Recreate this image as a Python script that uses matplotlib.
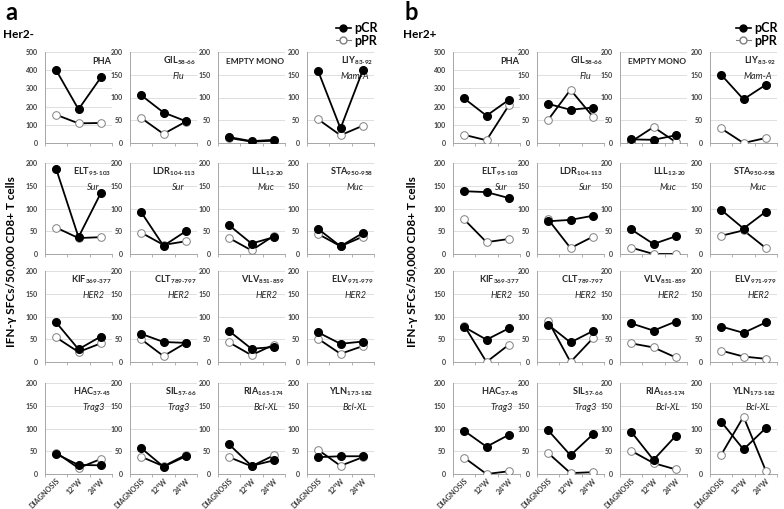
import numpy as np
import matplotlib.pyplot as plt
from matplotlib.lines import Line2D

plt.rcParams['font.family'] = ['Lato', 'DejaVu Sans']
plt.rcParams['mathtext.fontset'] = 'custom'
plt.rcParams['mathtext.rm'] = 'Lato'
plt.rcParams['mathtext.bf'] = 'Lato:bold'
plt.rcParams['mathtext.it'] = 'Lato:italic'

# data
timepoints = ['DIAGNOSIS', '12°W', '24°W']
peptides = ['PHA', 'GIL', 'EMPTY MONO', 'LIY',
            'ELT', 'LDR', 'LLL', 'STA',
            'KIF', 'CLT', 'VLV', 'ELV',
            'HAC', 'SIL', 'RIA', 'YLN']
subscripts = ['', '58-66', '', '83-92',
              '95-103', '104-113', '12-20', '950-958',
              '369-377', '789-797', '851-859', '971-979',
              '37-45', '57-66', '165-174', '173-182']
proteins = ['', 'Flu', '', 'Mam-A',
            'Sur', 'Sur', 'Muc', 'Muc',
            'HER2', 'HER2', 'HER2', 'HER2',
            'Trag3', 'Trag3', 'Bcl-XL', 'Bcl-XL']

her2neg_pcr = [[400, 185, 360], [105, 67, 48], [13, 4, 7], [158, 32, 160],
               [187, 37, 134], [92, 18, 50], [63, 23, 37], [55, 17, 46],
               [87, 28, 56], [62, 44, 42], [68, 29, 33], [65, 40, 45],
               [44, 20, 19], [57, 16, 39], [65, 18, 30], [37, 39, 39]]
her2neg_ppr = [[155, 108, 110], [55, 20, 47], [11, 3, 5], [52, 17, 38],
               [58, 35, 37], [47, 20, 28], [35, 8, 40], [44, 17, 38],
               [54, 22, 41], [50, 13, 42], [43, 15, 38], [51, 18, 35],
               [47, 13, 33], [38, 17, 42], [37, 17, 41], [53, 18, 37]]

her2pos_pcr = [[245, 150, 237], [86, 73, 78], [8, 7, 17], [150, 96, 128],
               [138, 136, 123], [72, 75, 84], [54, 22, 39], [97, 56, 93],
               [77, 49, 74], [82, 43, 68], [85, 69, 89], [78, 64, 87],
               [95, 60, 86], [96, 41, 87], [93, 31, 84], [115, 54, 101]]
her2pos_ppr = [[45, 15, 207], [51, 117, 58], [3, 35, 2], [32, 0, 11],
               [76, 26, 33], [76, 13, 38], [14, 0, 0], [40, 52, 13],
               [80, 0, 38], [90, 0, 52], [41, 32, 10], [25, 12, 7],
               [36, 0, 6], [46, 2, 4], [51, 24, 10], [42, 126, 7]]

W, H = 784, 509
fig = plt.figure(figsize=(W / 100, H / 100), dpi=100)

def px_axes(x0, y0, w, h):
    return fig.add_axes([x0 / W, 1 - (y0 + h) / H, w / W, h / H])

row_tops = [52, 163, 271, 383]
ax_h = 91
ax_w = 67
panels = [
    dict(letter='a', group='Her2-', xoff=0, lefts=[45, 130, 218, 307],
         pcr=her2neg_pcr, ppr=her2neg_ppr),
    dict(letter='b', group='Her2+', xoff=400, lefts=[453, 537, 620, 710],
         pcr=her2pos_pcr, ppr=her2pos_ppr),
]

xpos = np.arange(3) + 0.5
grid_c = '#d9d9d9'
spine_c = '#a6a6a6'

for p in panels:
    for i in range(16):
        r, c = divmod(i, 4)
        ax = px_axes(p['lefts'][c], row_tops[r], ax_w, ax_h)
        ymax = 500 if i == 0 else 200
        ax.set_xlim(0, 3)
        ax.set_ylim(0, ymax)
        ax.set_yticks(np.arange(0, ymax + 1, 100 if i == 0 else 50))
        ax.grid(axis='y', color=grid_c, lw=0.6)
        ax.set_axisbelow(True)
        for s in ['top', 'right']:
            ax.spines[s].set_visible(False)
        ax.spines['left'].set_color(spine_c)
        ax.spines['bottom'].set_color(spine_c)
        ax.spines['left'].set_linewidth(0.7)
        ax.spines['bottom'].set_linewidth(0.7)
        ax.tick_params(axis='y', length=0, labelsize=5, labelcolor='#404040', pad=5)
        for t in ax.get_yticklabels():
            t.set_fontweight('bold')
        ax.set_xticks([0, 1, 2, 3])
        ax.set_xticklabels([])
        ax.tick_params(axis='x', length=2.5, color=spine_c, width=0.6)
        if r == 3:
            ax.set_xticks(xpos, minor=True)
            ax.set_xticklabels(timepoints, minor=True, rotation=45, ha='right',
                               rotation_mode='anchor', fontsize=5.2, fontweight='bold',
                               color='#404040')
            ax.tick_params(axis='x', which='minor', length=0, pad=2)

        ax.plot(xpos, p['ppr'][i], color='black', lw=1.3, marker='o', ms=5.5,
                mfc='white', mec='#808080', mew=0.7, zorder=3)
        ax.plot(xpos, p['pcr'][i], color='black', lw=1.3, marker='o', ms=5.5,
                mfc='black', mec='black', zorder=4)

        name = peptides[i]
        if subscripts[i]:
            sub = subscripts[i].replace('-', '\u2010')
            label = r'$\mathbf{%s}_{\mathbf{%s}}$' % (name, sub)
        else:
            label = name
        ax.text(0.99, 0.9, label, transform=ax.transAxes, ha='right', va='center',
                fontsize=6 if name == 'EMPTY MONO' else 6.6,
                fontweight='bold', color='#262626')
        if proteins[i]:
            ax.text(0.72, 0.73, proteins[i], transform=ax.transAxes, ha='center',
                    va='center', fontsize=6.6, style='italic', color='#262626')

    fig.text((p['xoff'] + 5) / W, 1 - 13 / H, p['letter'], fontsize=17,
             fontweight='bold', va='center', ha='left')
    fig.text((p['xoff'] + 3) / W, 1 - 34 / H, p['group'], fontsize=8.5,
             fontweight='bold', va='center', ha='left')
    fig.text((p['xoff'] + 12) / W, 1 - 262 / H, 'IFN-γ SFCs/50,000 CD8+ T cells',
             rotation=90, fontsize=8.5, fontweight='bold', va='center', ha='center')

    handles = [Line2D([], [], color='black', lw=1.2, marker='o', ms=5, mfc='black'),
               Line2D([], [], color='#808080', lw=0.8, marker='o', ms=5,
                      mfc='white', mec='#808080')]
    fig.legend(handles, ['pCR', 'pPR'],
               loc='upper right', bbox_to_anchor=((p['xoff'] + 378) / W, 1 - 22 / H),
               frameon=False, prop={'weight': 'bold', 'size': 9},
               handlelength=1.2, handletextpad=0.3, labelspacing=0.05,
               borderaxespad=0, borderpad=0)

fig.savefig('out.png', dpi=100)
